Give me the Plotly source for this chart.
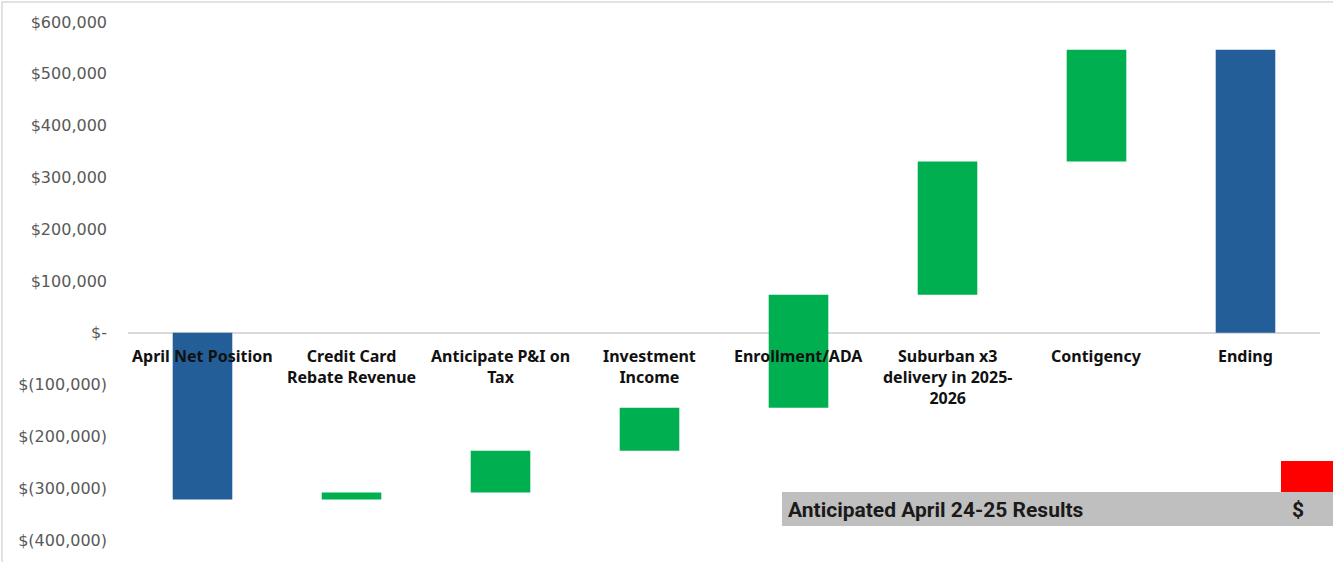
import plotly.graph_objects as go

categories = ["April Net Position", "Credit Card Rebate Revenue", "Anticipate P&I on Tax",
              "Investment Income", "Enrollment/ADA", "Suburban x3 delivery in 2025-2026",
              "Contigency", "Ending"]
category_labels = ["April Net Position", "Credit Card<br>Rebate Revenue", "Anticipate P&I on<br>Tax",
                   "Investment<br>Income", "Enrollment/ADA", "Suburban x3<br>delivery in 2025-<br>2026",
                   "Contigency", "Ending"]
measures = ["absolute", "relative", "relative", "relative", "relative", "relative", "relative", "total"]
values = [-322000, 13500, 81000, 83000, 218000, 257000, 216000, 0]

tick_vals = [600000, 500000, 400000, 300000, 200000, 100000, 0, -100000, -200000, -300000, -400000]
tick_text = ["$600,000", "$500,000", "$400,000", "$300,000", "$200,000", "$100,000", "$-",
             "$(100,000)", "$(200,000)", "$(300,000)", "$(400,000)"]

BLUE = "#245E99"
GREEN = "#00B050"

W, H = 1333, 562
L, R, T, B = 128, 13, 22, 22
PW, PH = W - L - R, H - T - B


def px(x):
    return (x - L) / PW


def py(y):
    return (H - B - y) / PH


fig = go.Figure(go.Waterfall(
    x=categories, y=values, measure=measures,
    increasing=dict(marker=dict(color=GREEN)),
    decreasing=dict(marker=dict(color=GREEN)),
    totals=dict(marker=dict(color=BLUE)),
    connector=dict(visible=False),
    showlegend=False,
))

for c, lab in zip(categories, category_labels):
    fig.add_annotation(x=c, y=0, xref="x", yref="y", text="<b>" + lab + "</b>",
                       showarrow=False, yanchor="top", yshift=-10,
                       font=dict(family="Noto Sans", size=16, color="#111111"))

shapes = [
    dict(type="rect", xref="paper", yref="paper", x0=px(782), x1=px(1340), y0=py(526), y1=py(492),
         fillcolor="#BFBFBF", line=dict(width=0), layer="above"),
    dict(type="rect", xref="paper", yref="paper", x0=px(1281), x1=px(1340), y0=py(492), y1=py(461),
         fillcolor="#FF0000", line=dict(width=0), layer="above"),
    dict(type="rect", xref="paper", yref="paper", x0=px(2), x1=px(1345), y0=py(570), y1=py(2),
         fillcolor="rgba(0,0,0,0)", line=dict(color="#D9D9D9", width=1.5), layer="above"),
]
fig.update_layout(shapes=shapes)

fig.add_annotation(xref="paper", yref="paper", x=px(786), y=py(510), xanchor="left", yanchor="middle",
                   text="<b>Anticipated April 24-25 Results</b>", showarrow=False,
                   font=dict(family="Liberation Sans Narrow, Roboto", size=21, color="#1a1a1a"))
fig.add_annotation(xref="paper", yref="paper", x=px(1298), y=py(510), xanchor="center", yanchor="middle",
                   text="<b>$</b>", showarrow=False,
                   font=dict(family="Liberation Sans Narrow, Roboto", size=21, color="#1a1a1a"))

fig.update_layout(
    width=W, height=H,
    margin=dict(l=L, r=R, t=T, b=B),
    paper_bgcolor="white", plot_bgcolor="white",
    waterfallgap=0.6,
    xaxis=dict(showticklabels=False, showgrid=False, zeroline=False, showline=False, ticks=""),
    yaxis=dict(range=[-400000, 600000], tickvals=tick_vals, ticktext=tick_text,
               showgrid=False, zeroline=True, zerolinecolor="#D9D9D9", zerolinewidth=2,
               ticklabelstandoff=20,
               tickfont=dict(family="DejaVu Sans", size=16, color="#595959")),
)

fig.write_html("out.html")
